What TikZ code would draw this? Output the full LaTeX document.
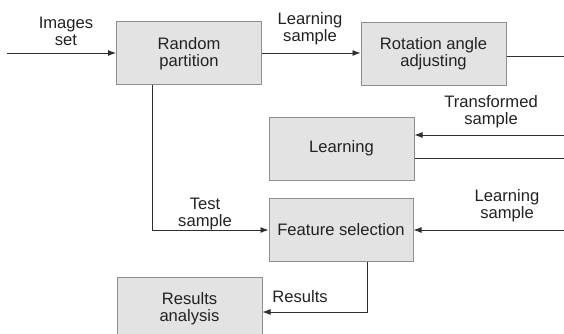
\documentclass[tikz,border=0pt]{standalone}
\usepackage{fontspec}
\setmainfont{Liberation Sans}
\usetikzlibrary{arrows.meta}
\definecolor{boxfill}{HTML}{E3E3E3}
\definecolor{boxedge}{HTML}{8E8E8E}
\definecolor{wire}{HTML}{2E2E2E}
\definecolor{ink}{HTML}{222222}
\begin{document}
\begin{tikzpicture}[x=1pt,y=-1pt,
  font=\fontsize{16.6}{17}\selectfont,
  stage/.style={draw=boxedge,fill=boxfill,line width=1pt,minimum width=145pt,
    minimum height=63pt,inner sep=0pt,align=center,text=ink},
  lbl/.style={align=center,text=ink,inner sep=0pt},
  flow/.style={draw=wire,line width=0.9pt,-{Latex[length=8pt,width=6pt]}},
  wireline/.style={draw=wire,line width=0.9pt}]
\useasboundingbox (0,0) rectangle (564,334);
\begin{scope}
\clip (0,0) rectangle (564,334);
% processing stages
\node[stage] (rp) at (189,53.5) {Random\\partition};
\node[stage] (ra) at (433.5,54) {Rotation angle\\adjusting};
\node[stage] (learn) at (341.5,148.5) {Learning};
\node[stage,minimum width=144pt] (fs) at (341,229.5) {Feature selection};
\node[stage] (res) at (189.5,308.5) {Results\\analysis};

% free ends of the connectors
\coordinate (src) at (7,53);
\coordinate (raout) at (564,56);
\coordinate (tin) at (564,135);
\coordinate (lout) at (564,158);
\coordinate (lsin) at (564,230);
\coordinate (tbend) at (152,230);
\coordinate (rbend) at (367,312);

% connectors
\draw[flow] (src) -- (rp.west |- src);
\draw[flow] (rp.east |- src) -- (ra.west |- src);
\draw[wireline] (ra.east |- raout) -- (raout);
\draw[flow] (tin) -- (learn.east |- tin);
\draw[wireline] (learn.east |- lout) -- (lout);
\draw[flow] (lsin) -- (fs.east |- lsin);
\draw[flow] (rp.south -| tbend) -- (tbend) -- (fs.west |- tbend);
\draw[flow] (fs.south -| rbend) -- (rbend) -- (res.east |- rbend);

% connector labels
\node[lbl] (limg) at (66,31) {Images\\set};
\node[lbl] (lls1) at (310,29) {Learning\\sample};
\node[lbl] (lts) at (491,112) {Transformed\\sample};
\node[lbl] (lls2) at (507,206) {Learning\\sample};
\node[lbl] (ltest) at (205,214) {Test\\sample};
\node[lbl] (lres) at (300,297) {Results};
\end{scope}
\end{tikzpicture}
\end{document}
